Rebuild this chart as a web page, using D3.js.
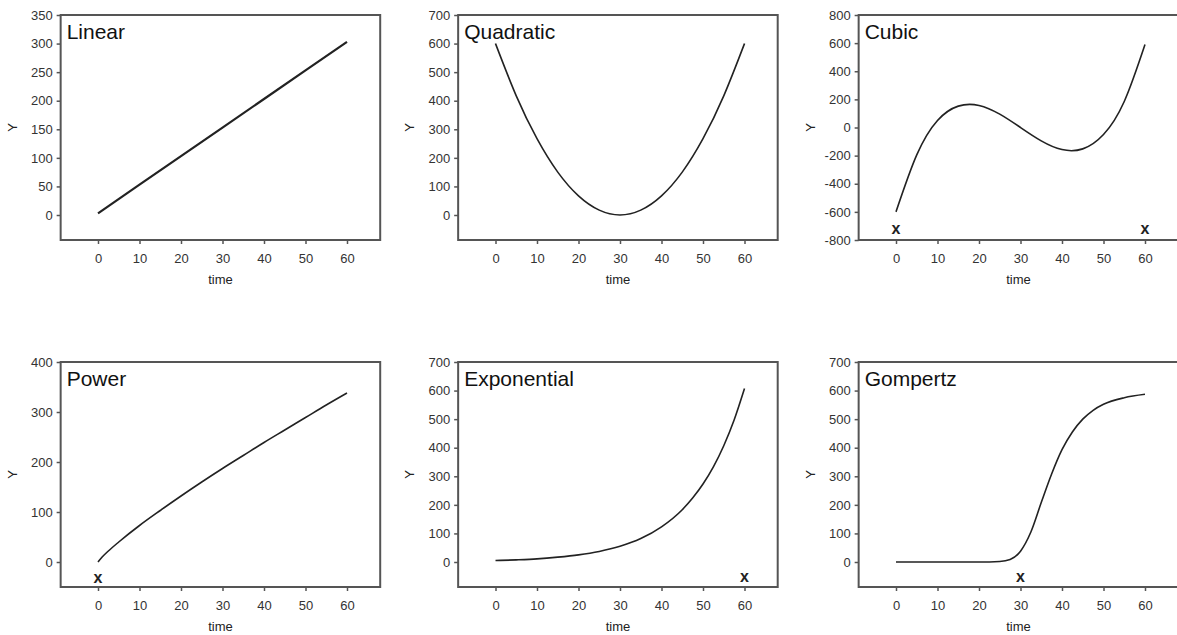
<!DOCTYPE html>
<html lang="en">
<head>
  <meta charset="utf-8" />
  <title>Growth curves</title>
  <script type="text/javascript" src="https://cdn.jsdelivr.net/npm/d3@7"></script>
  <style type="text/css">
body { margin: 0; background: white; }
.tick text { font-family: "Liberation Sans", Arial, sans-serif; font-size: 13px; fill: #333; }
.tick line { stroke: #555; stroke-width: 1.5; }
.title { font-family: "Liberation Sans", Arial, sans-serif; font-size: 21px; fill: #111; }
.label { font-family: "Liberation Sans", Arial, sans-serif; font-size: 13px; fill: #222; }
.mark { font-family: "Liberation Sans", Arial, sans-serif; font-size: 16px; font-weight: bold; fill: #222; }
  </style>
</head>
<body>

<script type="text/javascript">

// values
var timeTicks = [0, 10, 20, 30, 40, 50, 60];

var linearTime = [0, 10, 20, 30, 40, 50, 60];
var linearY = [3, 53, 103, 153, 203, 253, 303];
var linearTicks = [0, 50, 100, 150, 200, 250, 300, 350];

var quadTime = [0, 5, 10, 15, 20, 25, 30, 35, 40, 45, 50, 55, 60];
var quadY = [600, 417, 267, 150, 67, 17, 0, 17, 67, 150, 267, 417, 600];
var quadTicks = [0, 100, 200, 300, 400, 500, 600, 700];

var cubicTime = [0, 5, 10, 15, 20, 25, 30, 35, 40, 45, 50, 55, 60];
var cubicY = [-600, -195, 50, 152, 157, 95, 0, -95, -157, -152, -50, 185, 590];
var cubicTicks = [-800, -600, -400, -200, 0, 200, 400, 600, 800];
var cubicMarks = [[0, -730], [60, -730]];

var powerTime = [0, 1, 2.5, 5, 10, 15, 20, 25, 30, 35, 40, 45, 50, 55, 60];
var powerY = [0, 10, 22, 40, 73, 103, 132, 160, 187, 213, 239, 264, 289, 314, 338];
var powerTicks = [0, 100, 200, 300, 400];
var powerMarks = [[0, -33]];

var expTime = [0, 5, 10, 15, 20, 25, 30, 35, 40, 45, 47.5, 50, 52.5, 55, 57.5, 60];
var expY = [5, 7.5, 11, 17, 25, 37, 55, 82, 123, 183, 224, 273, 333, 407, 497, 607];
var expTicks = [0, 100, 200, 300, 400, 500, 600, 700];
var expMarks = [[60, -56]];

var gompTime = [0, 5, 10, 15, 20, 25, 27.5, 30, 32.5, 35, 37.5, 40, 42.5, 45, 47.5, 50, 55, 60];
var gompY = [0, 0, 0, 0, 0, 2, 9, 38, 105, 208, 308, 393, 455, 500, 531, 552, 575, 587];
var gompTicks = [0, 100, 200, 300, 400, 500, 600, 700];
var gompMarks = [[30, -56]];

var w = 1177;
var h = 635;
var colX0 = [98, 495.5, 896];   // pixel where time = 0
var rowTop = [15, 362];
var frameH = 225;
var pxPerUnit = 4.15;
var tMin = -9, tMax = 68;

var panels = [
  { title: "Linear", time: linearTime, y: linearY, ticks: linearTicks, domain: [-43.75, 350], col: 0, row: 0, curve: d3.curveLinear, width: 2.2, marks: [] },
  { title: "Quadratic", time: quadTime, y: quadY, ticks: quadTicks, domain: [-87.5, 700], col: 1, row: 0, curve: d3.curveNatural, width: 1.6, marks: [] },
  { title: "Cubic", time: cubicTime, y: cubicY, ticks: cubicTicks, domain: [-800, 800], col: 2, row: 0, curve: d3.curveNatural, width: 1.6, marks: cubicMarks },
  { title: "Power", time: powerTime, y: powerY, ticks: powerTicks, domain: [-50, 400], col: 0, row: 1, curve: d3.curveMonotoneX, width: 1.6, marks: powerMarks },
  { title: "Exponential", time: expTime, y: expY, ticks: expTicks, domain: [-87.5, 700], col: 1, row: 1, curve: d3.curveMonotoneX, width: 1.6, marks: expMarks },
  { title: "Gompertz", time: gompTime, y: gompY, ticks: gompTicks, domain: [-87.5, 700], col: 2, row: 1, curve: d3.curveMonotoneX, width: 1.6, marks: gompMarks }
];

var svg = d3.select("body")
    .append("svg")
    .attr("width", w)
    .attr("height", h);

panels.forEach(function(p) {
  var left = colX0[p.col] + tMin * pxPerUnit;
  var top = rowTop[p.row];
  var frameW = (tMax - tMin) * pxPerUnit;

  var xScale = d3.scaleLinear().domain([tMin, tMax]).range([0, frameW]);
  var yScale = d3.scaleLinear().domain(p.domain).range([frameH, 0]);

  var g = svg.append("g").attr("transform", "translate(" + left + "," + top + ")");

  var xAxis = g.append("g")
      .attr("transform", "translate(0," + frameH + ")")
      .call(d3.axisBottom(xScale).tickValues(timeTicks).tickSize(4).tickSizeOuter(0)
        .tickPadding(10).tickFormat(function(d) { return String(d); }));
  xAxis.select(".domain").remove();

  var yAxis = g.append("g")
      .call(d3.axisLeft(yScale).tickValues(p.ticks).tickSize(4).tickSizeOuter(0)
        .tickPadding(4).tickFormat(function(d) { return String(d); }));
  yAxis.select(".domain").remove();
  g.selectAll(".tick line").attr("stroke", "#555");

  var pts = p.time.map(function(t, i) { return [t, p.y[i]]; });
  var line = d3.line()
      .x(function(d) { return xScale(d[0]); })
      .y(function(d) { return yScale(d[1]); })
      .curve(p.curve);

  g.append("path")
      .datum(pts)
      .attr("d", line)
      .attr("fill", "none")
      .attr("stroke", "#222")
      .attr("stroke-width", p.width);

  g.selectAll("text.mark")
      .data(p.marks)
      .enter()
      .append("text")
      .attr("class", "mark")
      .attr("x", function(d) { return xScale(d[0]); })
      .attr("y", function(d) { return yScale(d[1]); })
      .attr("dy", "0.26em")
      .attr("text-anchor", "middle")
      .text("x");

  g.append("rect")
      .attr("width", frameW)
      .attr("height", frameH)
      .attr("fill", "none")
      .attr("stroke", "#555")
      .attr("stroke-width", 2);

  g.append("text")
      .attr("class", "title")
      .attr("x", 6)
      .attr("y", 24)
      .text(p.title);

  g.append("text")
      .attr("class", "label")
      .attr("x", frameW / 2)
      .attr("y", frameH + 44)
      .attr("text-anchor", "middle")
      .text("time");

  g.append("text")
      .attr("class", "label")
      .attr("transform", "translate(-44," + (frameH / 2) + ") rotate(-90)")
      .attr("text-anchor", "middle")
      .text("Y");
});

</script>

</body>
</html>
